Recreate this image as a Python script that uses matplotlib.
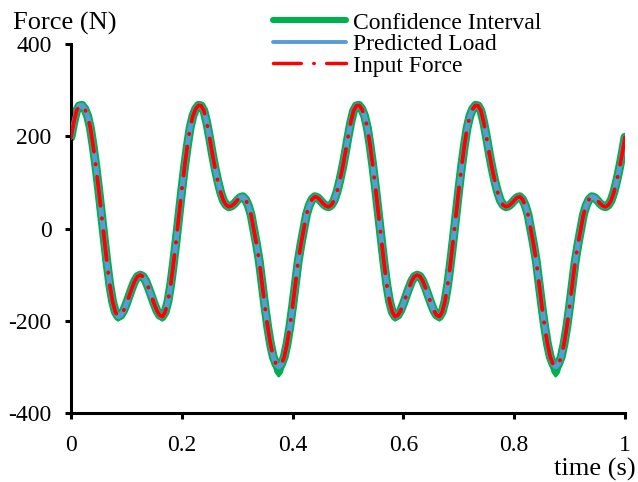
import numpy as np
import matplotlib.pyplot as plt
from matplotlib.lines import Line2D

# time axis, 0 to 1 s in steps of 0.005 s
time_s = np.linspace(0.0, 1.0, 201)

# input force / predicted load (N)
input_force = [
    198, 230, 255, 266, 267, 259, 244, 218, 179, 134, 84, 31, -24, -75, -122, -158, -181, -191, -188, -178,
    -163, -146, -129, -114, -104, -101, -104, -114, -129, -146, -163, -178, -188, -191, -181, -158, -122, -75, -24, 31,
    84, 134, 179, 218, 244, 259, 267, 266, 255, 230, 198, 163, 131, 103, 79, 61, 51, 47, 49, 54,
    61, 67, 69, 63, 50, 30, -2, -35, -72, -120, -169, -213, -250, -278, -294, -300, -294, -278, -250, -213,
    -169, -120, -72, -35, -2, 30, 50, 63, 69, 67, 61, 54, 49, 47, 51, 61, 79, 103, 131, 163,
    198, 230, 255, 266, 267, 259, 244, 218, 179, 134, 84, 31, -24, -75, -122, -158, -181, -191, -188, -178,
    -163, -146, -129, -114, -104, -101, -104, -114, -129, -146, -163, -178, -188, -191, -181, -158, -122, -75, -24, 31,
    84, 134, 179, 218, 244, 259, 267, 266, 255, 230, 198, 163, 131, 103, 79, 61, 51, 47, 49, 54,
    61, 67, 69, 63, 50, 30, -2, -35, -72, -120, -169, -213, -250, -278, -294, -300, -294, -278, -250, -213,
    -169, -120, -72, -35, -2, 30, 50, 63, 69, 67, 61, 54, 49, 47, 51, 61, 79, 103, 131, 163,
    198,
]
predicted_load = list(input_force)

# extra width of the confidence band below the curve (N), wider at the minima
ci_spread = [
    0, 0, 0, 0, 0, 0, 0, 0, 0, 0, 0, 0, 0, 0, 1, 3, 6, 8, 6, 3,
    1, 0, 0, 0, 0, 0, 0, 0, 0, 0, 1, 3, 6, 8, 6, 3, 1, 0, 0, 0,
    0, 0, 0, 0, 0, 0, 0, 0, 0, 0, 0, 0, 0, 0, 0, 0, 0, 0, 0, 0,
    0, 0, 0, 0, 0, 0, 0, 0, 0, 2, 4, 7, 11, 15, 18, 20, 18, 15, 11, 7,
    4, 2, 0, 0, 0, 0, 0, 0, 0, 0, 0, 0, 0, 0, 0, 0, 0, 0, 0, 0,
    0, 0, 0, 0, 0, 0, 0, 0, 0, 0, 0, 0, 0, 0, 1, 3, 6, 8, 6, 3,
    1, 0, 0, 0, 0, 0, 0, 0, 0, 0, 1, 3, 6, 8, 6, 3, 1, 0, 0, 0,
    0, 0, 0, 0, 0, 0, 0, 0, 0, 0, 0, 0, 0, 0, 0, 0, 0, 0, 0, 0,
    0, 0, 0, 0, 0, 0, 0, 0, 0, 2, 4, 7, 11, 15, 18, 20, 18, 15, 11, 7,
    4, 2, 0, 0, 0, 0, 0, 0, 0, 0, 0, 0, 0, 0, 0, 0, 0, 0, 0, 0,
    0,
]

x_ticks = [0, 0.2, 0.4, 0.6, 0.8, 1]
x_tick_labels = ["0", "0.2", "0.4", "0.6", "0.8", "1"]
y_ticks = [-400, -200, 0, 200, 400]

GREEN = "#00B050"
BLUE = "#5B9BD5"
RED = "#FF0000"


def main():
    plt.rcParams["font.family"] = ["Liberation Serif", "DejaVu Serif"]
    plt.rcParams["font.size"] = 17
    plt.rcParams["axes.unicode_minus"] = False
    plt.rcParams["lines.scale_dashes"] = False

    fig = plt.figure(figsize=(6.38, 4.82), dpi=100)
    ax = fig.add_axes([71 / 638, 69 / 482, 554 / 638, 369 / 482])

    force = np.array(input_force, dtype=float)
    lower = force - np.array(ci_spread, dtype=float)

    ax.fill_between(time_s, lower, force, color=GREEN, lw=0, zorder=1)
    ax.plot(time_s, force, color=GREEN, lw=6.4, solid_capstyle="round", zorder=2)
    ax.plot(time_s, lower, color=GREEN, lw=2.0, zorder=2)
    ax.plot(time_s, predicted_load, color=BLUE, lw=3.6, solid_capstyle="round", zorder=3)
    ax.plot(time_s, input_force, color=RED, lw=2.8, dashes=(21, 9, 0.3, 9),
            dash_capstyle="round", zorder=4)

    ax.set_xlim(0, 1)
    ax.set_ylim(-400, 400)
    ax.set_xticks(x_ticks)
    ax.set_xticklabels(x_tick_labels)
    ax.set_yticks(y_ticks)

    for side in ["top", "right"]:
        ax.spines[side].set_visible(False)
    for side in ["left", "bottom"]:
        ax.spines[side].set_linewidth(2.2)
    ax.tick_params(direction="out", length=4.5, width=2.2, labelsize=17)
    ax.tick_params(axis="y", pad=9.5)
    ax.tick_params(axis="x", pad=11)

    fig.text(13 / 638, 1 - 30 / 482, "Force (N)", fontsize=19, va="baseline", ha="left")
    fig.text(636 / 638, 1 - 476 / 482, "time (s)", fontsize=19, va="baseline", ha="right")

    handles = [
        Line2D([], [], color=GREEN, lw=4.4, solid_capstyle="round"),
        Line2D([], [], color=BLUE, lw=2.8, solid_capstyle="round"),
        Line2D([], [], color=RED, lw=2.5, dashes=(20, 9, 0.3, 9), dash_capstyle="round"),
    ]
    labels = ["Confidence Interval", "Predicted Load", "Input Force"]
    fig.legend(handles, labels, loc="upper left", bbox_to_anchor=(273 / 638, 1 - 12 / 482),
               frameon=False, fontsize=17, handlelength=3.1, handletextpad=0.3,
               labelspacing=0.0, borderpad=0, borderaxespad=0)

    fig.savefig("out.png", dpi=100)
    plt.close(fig)


if __name__ == "__main__":
    main()
